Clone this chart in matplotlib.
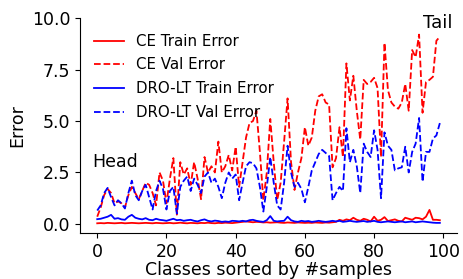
import numpy as np
import matplotlib
matplotlib.use("Agg")
import matplotlib.pyplot as plt

# per-class errors, classes sorted by number of samples (head -> tail)
ce_val = [0.35, 0.8, 1.4, 1.7, 1.5, 1.0, 1.1, 1.0, 0.8, 1.4,
          1.8, 1.5, 1.2, 1.6, 2.0, 1.9, 1.5, 0.9, 2.5, 2.1,
          1.0, 2.2, 3.2, 0.45, 3.0, 2.4, 2.7, 1.9, 3.0, 2.2,
          1.2, 3.25, 2.5, 2.8, 2.5, 4.0, 2.5, 2.8, 3.35, 2.6,
          3.75, 1.8, 3.0, 4.2, 4.9, 5.0, 5.5, 3.5, 1.15, 2.5,
          5.1, 3.0, 1.15, 2.0, 4.0, 6.1, 3.0, 1.65, 2.5, 3.2,
          4.7, 3.8, 4.2, 5.5, 6.2, 6.3, 5.9, 5.8, 2.75, 3.2,
          4.7, 3.25, 7.8, 6.0, 7.2, 5.5, 4.1, 7.0, 6.8, 6.9,
          7.1, 6.6, 3.25, 8.8, 6.5, 5.9, 5.7, 5.6, 5.9, 6.8,
          5.5, 8.45, 8.1, 9.2, 5.4, 6.9, 7.0, 7.15, 8.9, 9.1]

dro_val = [0.65, 0.9, 1.5, 1.75, 1.3, 0.9, 1.15, 1.0, 0.75, 1.5,
           2.1, 1.4, 1.15, 1.6, 1.9, 1.3, 0.7, 1.6, 2.1, 1.7,
           0.7, 1.6, 1.8, 0.5, 1.8, 2.1, 2.3, 1.6, 2.2, 1.9,
           1.5, 2.3, 2.5, 2.0, 2.2, 1.8, 1.25, 2.0, 2.5, 2.2,
           2.4, 1.15, 2.0, 2.8, 3.0, 2.95, 2.7, 1.8, 0.6, 1.8,
           3.25, 2.0, 0.9, 0.7, 2.0, 3.8, 2.5, 1.8, 2.0, 1.7,
           1.05, 1.8, 2.6, 3.0, 3.4, 3.6, 3.45, 3.3, 1.15, 1.5,
           1.8, 1.6, 4.65, 3.0, 3.6, 2.8, 1.5, 3.9, 3.5, 3.25,
           4.55, 3.6, 1.25, 4.45, 3.8, 3.6, 2.6, 2.7, 2.75, 3.75,
           2.5, 3.5, 3.9, 5.15, 2.05, 3.5, 3.5, 4.15, 4.3, 4.9]

ce_train = [0.03, 0.04, 0.03, 0.05, 0.04, 0.03, 0.04, 0.05, 0.03, 0.04,
            0.05, 0.04, 0.03, 0.04, 0.05, 0.04, 0.03, 0.05, 0.04, 0.03,
            0.04, 0.05, 0.03, 0.04, 0.06, 0.04, 0.03, 0.05, 0.04, 0.03,
            0.05, 0.04, 0.06, 0.04, 0.03, 0.05, 0.04, 0.06, 0.05, 0.04,
            0.06, 0.08, 0.1, 0.12, 0.1, 0.08, 0.1, 0.09, 0.07, 0.08,
            0.06, 0.07, 0.08, 0.06, 0.05, 0.07, 0.06, 0.05, 0.07, 0.06,
            0.05, 0.06, 0.05, 0.07, 0.06, 0.05, 0.07, 0.06, 0.08, 0.1,
            0.2, 0.15, 0.22, 0.18, 0.3, 0.2, 0.15, 0.25, 0.2, 0.12,
            0.35, 0.15, 0.2, 0.33, 0.14, 0.18, 0.22, 0.15, 0.12, 0.3,
            0.25, 0.2, 0.3, 0.28, 0.22, 0.35, 0.68, 0.2, 0.2, 0.18]

dro_train = [0.23, 0.25, 0.3, 0.35, 0.44, 0.25, 0.28, 0.22, 0.2, 0.35,
             0.44, 0.3, 0.25, 0.22, 0.28, 0.2, 0.18, 0.25, 0.2, 0.18,
             0.15, 0.2, 0.25, 0.18, 0.2, 0.15, 0.18, 0.2, 0.15, 0.12,
             0.18, 0.22, 0.15, 0.12, 0.16, 0.14, 0.1, 0.12, 0.1, 0.15,
             0.14, 0.12, 0.15, 0.12, 0.18, 0.2, 0.15, 0.12, 0.1, 0.18,
             0.38, 0.15, 0.12, 0.14, 0.15, 0.35, 0.18, 0.12, 0.1, 0.15,
             0.12, 0.14, 0.1, 0.12, 0.15, 0.12, 0.1, 0.12, 0.15, 0.12,
             0.15, 0.1, 0.12, 0.15, 0.12, 0.1, 0.12, 0.14, 0.1, 0.12,
             0.15, 0.1, 0.08, 0.1, 0.12, 0.1, 0.08, 0.1, 0.12, 0.08,
             0.1, 0.12, 0.08, 0.1, 0.12, 0.1, 0.08, 0.06, 0.05, 0.05]

classes = np.arange(len(ce_val))

fig = plt.figure(figsize=(4.63, 2.79), dpi=100)
ax = fig.add_axes([0.173, 0.165, 0.814, 0.77])

ax.plot(classes, ce_train, color='red', linewidth=1.3, label='CE Train Error')
ax.plot(classes, ce_val, color='red', linestyle='--', linewidth=1.3, label='CE Val Error')
ax.plot(classes, dro_train, color='blue', linewidth=1.3, label='DRO-LT Train Error')
ax.plot(classes, dro_val, color='blue', linestyle='--', linewidth=1.3, label='DRO-LT Val Error')

ax.set_ylim(-0.44, 10.0)
ax.set_yticks([0.0, 2.5, 5.0, 7.5, 10.0])
ax.set_xticks(range(0, 101, 20))
ax.tick_params(labelsize=12.5)
ax.set_xlabel('Classes sorted by #samples', fontsize=12.5, labelpad=0)
ax.set_ylabel('Error', fontsize=12.5)

ax.spines['top'].set_visible(False)
ax.spines['right'].set_visible(False)

ax.text(-1.5, 2.75, 'Head', fontsize=12.5)
ax.text(98.5, 9.5, 'Tail', fontsize=13, ha='center')

ax.legend(loc='upper left', frameon=False, fontsize=10.8,
          bbox_to_anchor=(0.0, 0.99), labelspacing=0.58)

fig.savefig('out.png', dpi=100)
